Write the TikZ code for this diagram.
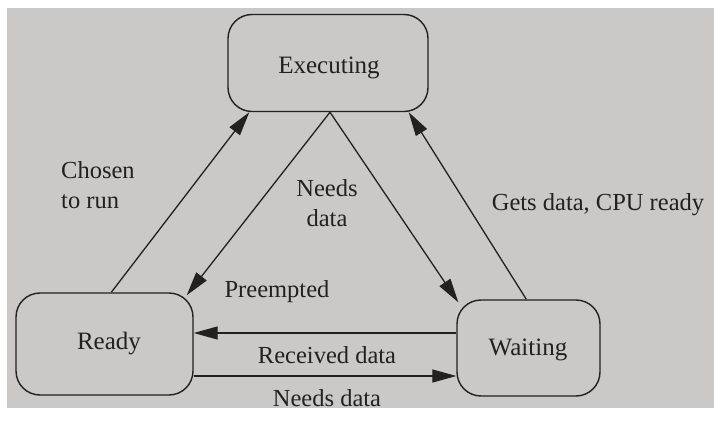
\documentclass[tikz,border=0pt]{standalone}
\usepackage{fontspec}
\setmainfont{Liberation Serif}
\usetikzlibrary{arrows.meta}
\definecolor{ink}{RGB}{34,32,32}
\definecolor{paper}{RGB}{203,201,199}
\begin{document}
\begin{tikzpicture}[x=1pt,y=-1pt,
  state/.style={draw=ink, line width=1.4pt, rounded corners=24pt, inner sep=0pt},
  lbl/.style={font=\fontsize{24.5}{30}\selectfont, text=ink, inner sep=0pt},
  flow/.style={draw=ink, line width=1.3pt, -{Triangle[length=24pt,width=13pt]}}]
\useasboundingbox (0,0) rectangle (720,422);
\fill[white] (0,0) rectangle (720,422);
\fill[paper] (7,8) rectangle (714,408);

\node[state, minimum width=200pt, minimum height=97pt] (exec) at (328,63) {};
\node[state, minimum width=177pt, minimum height=102pt] (ready) at (104.5,344) {};
\node[state, minimum width=143pt, minimum height=96pt] (wait) at (528.5,348) {};
\node[lbl, font=\fontsize{25}{30}\selectfont] (exectxt) at (329,68) {Executing};
\node[lbl, font=\fontsize{25}{30}\selectfont] (readytxt) at (109,344) {Ready};
\node[lbl, font=\fontsize{25}{30}\selectfont] (waittxt) at (528,350) {Waiting};

\draw[flow] ([xshift=96pt]ready.north west) -- ([xshift=22pt]exec.south west);
\draw[flow] ([xshift=2pt]exec.south) -- ([xshift=-7pt,yshift=-3pt]ready.north east);
\draw[flow] ([xshift=2pt]exec.south) -- ([xshift=2pt,yshift=-3pt]wait.north west);
\draw[flow] ([xshift=70pt]wait.north west) -- ([xshift=-20pt]exec.south east);
\draw[flow] ([yshift=15pt]wait.west) -- ([yshift=11pt]ready.east);
\draw[flow] ([yshift=-32pt]ready.east) -- ([yshift=-28pt]wait.west);

\node[lbl, align=left, anchor=west] (chosen) at (61,185) {Chosen\\to run};
\node[lbl, align=center] (needs1) at (327,203) {Needs\\data};
\node[lbl] (pre) at (277,292) {Preempted};
\node[lbl] (gets) at (598,205) {Gets data, CPU ready};
\node[lbl] (recv) at (327,355) {Received data};
\node[lbl] (needs2) at (327,398) {Needs data};
\end{tikzpicture}
\end{document}
